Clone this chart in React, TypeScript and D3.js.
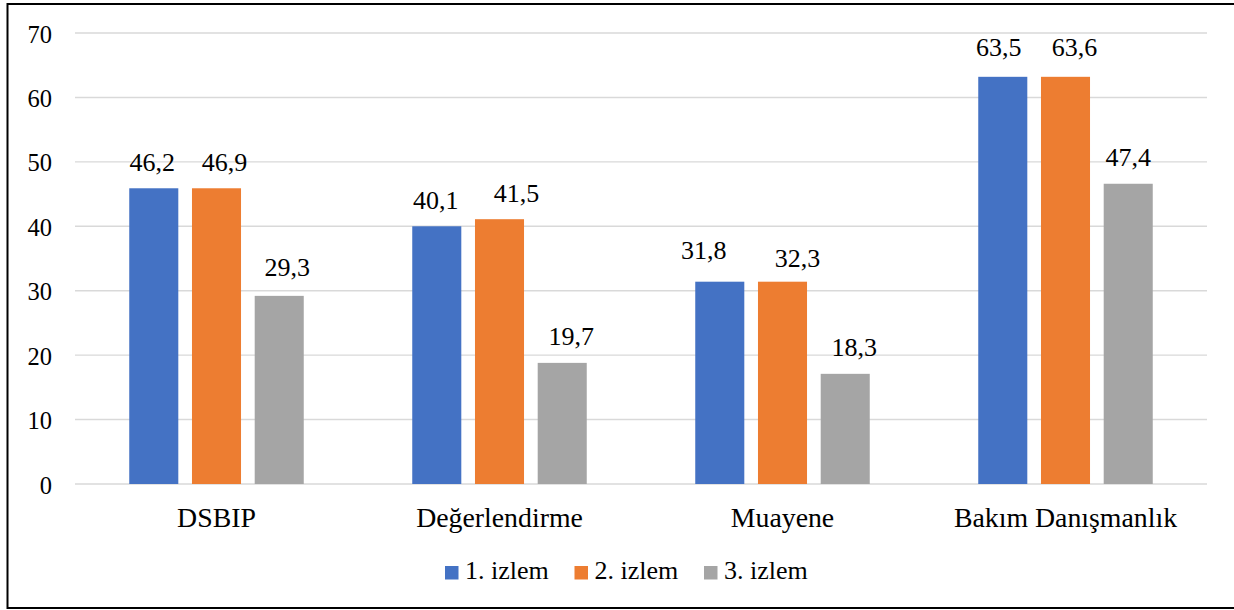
import React from "react";
import * as d3 from "d3";

const categories = ["DSBIP", "Değerlendirme", "Muayene", "Bakım Danışmanlık"];
const seriesNames = ["1. izlem", "2. izlem", "3. izlem"];
// bar heights as drawn in the picture
const izlem1 = [45.9, 40.0, 31.4, 63.2];
const izlem2 = [45.9, 41.1, 31.4, 63.2];
const izlem3 = [29.2, 18.8, 17.1, 46.6];
// data label texts as printed
const label1 = ["46,2", "40,1", "31,8", "63,5"];
const label2 = ["46,9", "41,5", "32,3", "63,6"];
const label3 = ["29,3", "19,7", "18,3", "47,4"];
const yTicks = [0, 10, 20, 30, 40, 50, 60, 70];
const colors = ["#4472C4", "#ED7D31", "#A5A5A5"];
// manual label nudges [dx, dy] per series/category
const labelNudge = [
  [[-1.5, 0], [-1, 0], [-16, -6], [-4, -4]],
  [[8, 0], [17, 0], [15, 2], [9, -4]],
  [[8, -2.5], [9, -1], [9, -0.5], [0, -1]],
];

export default function App() {
  const W = 1234, H = 610;
  const left = 75, right = 1207, top = 33, bottom = 484;
  const values = [izlem1, izlem2, izlem3];
  const labels = [label1, label2, label3];
  const y = d3.scaleLinear().domain([0, 70]).range([bottom, top]);
  const x0 = d3.scaleBand().domain(categories).range([left, right]).padding(0);
  const groupW = 174.5;
  const x1 = d3.scaleBand().domain(seriesNames).range([-groupW / 2, groupW / 2]).paddingInner(0.218).paddingOuter(0);
  const font = "Liberation Serif";
  const legendX = 445, legendStep = 129.5;

  return (
    <svg width={W} height={H} style={{ position: "absolute", left: 0, top: 0 }}>
      <rect x={0} y={0} width={W} height={H} fill="#fff" />
      {yTicks.map((t) => (
        <g key={t}>
          <line x1={left} x2={right} y1={y(t)} y2={y(t)} stroke="#d9d9d9" strokeWidth={1.4} />
          <text x={52} y={y(t) + 9.5} textAnchor="end" fontSize={24.5} fill="#000" fontFamily={font}>{t}</text>
        </g>
      ))}
      {categories.map((c, ci) => {
        const cx = (x0(c) as number) + x0.bandwidth() / 2;
        return (
          <g key={c}>
            {seriesNames.map((s, si) => {
              const v = values[si][ci];
              const bx = cx + (x1(s) as number);
              const bw = x1.bandwidth();
              const [dx, dy] = labelNudge[si][ci];
              return (
                <g key={s}>
                  <rect x={bx} y={y(v)} width={bw} height={y(0) - y(v)} fill={colors[si]} />
                  <text x={bx + bw / 2 + dx} y={y(v) - 17 + dy} textAnchor="middle" fontSize={26} fill="#000" fontFamily={font}>
                    {labels[si][ci]}
                  </text>
                </g>
              );
            })}
            <text x={cx} y={526.5} textAnchor="middle" fontSize={27.8} fill="#000" fontFamily={font}>{c}</text>
          </g>
        );
      })}
      {seriesNames.map((s, si) => (
        <g key={s} transform={`translate(${legendX + si * legendStep},0)`}>
          <rect x={0} y={566} width={13.5} height={13.5} fill={colors[si]} />
          <text x={20} y={579.3} fontSize={26} fill="#000" fontFamily={font}>{s}</text>
        </g>
      ))}
      <rect x={7.5} y={4} width={1240} height={604} fill="none" stroke="#000" strokeWidth={2} />
    </svg>
  );
}
